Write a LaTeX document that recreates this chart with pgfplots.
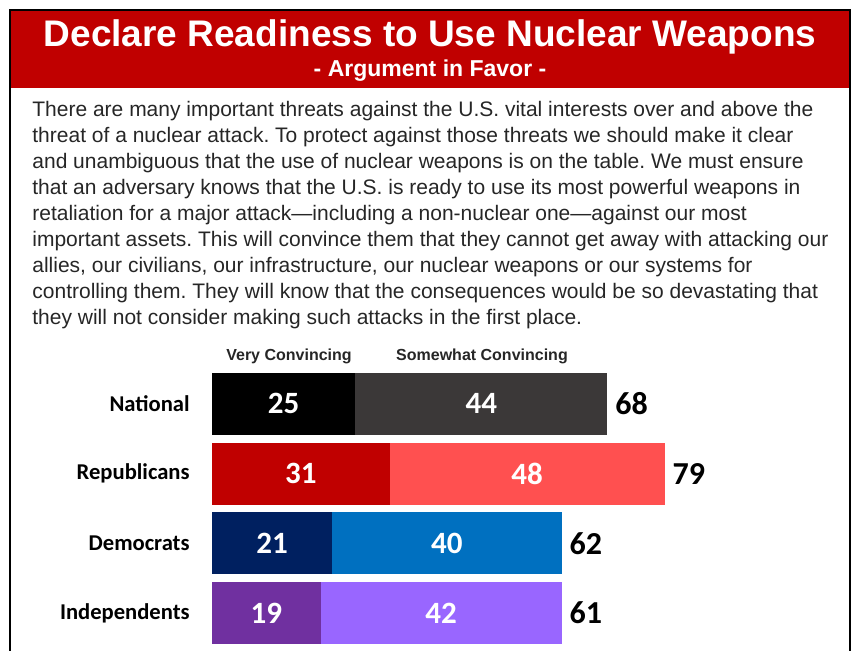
\documentclass[border=0pt]{standalone}
\usepackage{fontspec}
\setmainfont{Liberation Sans}
\newfontfamily\calibri{Carlito}
\usepackage{pgfplots}
\pgfplotsset{compat=1.18}
\definecolor{banner}{HTML}{C00000}
\definecolor{natA}{HTML}{000000}
\definecolor{natB}{HTML}{3B3838}
\definecolor{repA}{HTML}{C00000}
\definecolor{repB}{HTML}{FF5050}
\definecolor{demA}{HTML}{002060}
\definecolor{demB}{HTML}{0070C0}
\definecolor{indA}{HTML}{7030A0}
\definecolor{indB}{HTML}{9966FF}
\definecolor{txt}{HTML}{262626}
\frenchspacing

\begin{document}
\begin{tikzpicture}[x=0.5pt,y=-0.5pt]
\path[use as bounding box] (0,0) rectangle (857,651);
% banner and frame
\fill[banner] (10,10) rectangle (850,88);
\draw[line width=1.2pt] (10,651) -- (10,10) -- (850,10) -- (850,651);
\node[text=white, font=\bfseries\fontsize{18.5}{20}\selectfont] at (430,37) {Declare Readiness to Use Nuclear Weapons};
\node[text=white, font=\bfseries\fontsize{11.5}{13}\selectfont] at (430,71) {- Argument in Favor -};
% argument text
\node[anchor=north west, inner sep=0pt, align=left, text=txt,
      font=\fontsize{10.5}{13}\selectfont] at (32,101) {%
There are many important threats against the U.S. vital interests over and above the\\
threat of a nuclear attack. To protect against those threats we should make it clear\\
and unambiguous that the use of nuclear weapons is on the table. We must ensure\\
that an adversary knows that the U.S. is ready to use its most powerful weapons in\\
retaliation for a major attack—including a non-nuclear one—against our most\\
important assets. This will convince them that they cannot get away with attacking our\\
allies, our civilians, our infrastructure, our nuclear weapons or our systems for\\
controlling them. They will know that the consequences would be so devastating that\\
they will not consider making such attacks in the first place.};
% column headers
\node[font=\bfseries\fontsize{8}{9}\selectfont, text=txt] at (289,356) {Very Convincing};
\node[font=\bfseries\fontsize{8}{9}\selectfont, text=txt] at (482,356) {Somewhat Convincing};

\pgfplotsset{barframe/.style={
    at={(106pt,-184.5pt)}, anchor=north west, scale only axis,
    width=315.15pt, height=139.4pt,
    xmin=0, xmax=110, ymin=-0.5, ymax=3.5, y dir=reverse, clip=false}}

\begin{axis}[barframe,
    xbar stacked, bar width=31pt,
    axis x line=none, axis y line*=left,
    y axis line style={draw=none}, ytick style={draw=none},
    ytick={0,1,2,3},
    yticklabels={National,Republicans,Democrats,Independents},
    yticklabel style={font=\calibri\bfseries\fontsize{11.3}{13}\selectfont,
                      inner sep=0pt, xshift=-11pt}]
% very convincing
\addplot[fill=natA, draw=none] coordinates {(25,0) (0,1) (0,2) (0,3)};
\addplot[fill=repA, draw=none] coordinates {(0,0) (31,1) (0,2) (0,3)};
\addplot[fill=demA, draw=none] coordinates {(0,0) (0,1) (21,2) (0,3)};
\addplot[fill=indA, draw=none] coordinates {(0,0) (0,1) (0,2) (19,3)};
% somewhat convincing
\addplot[fill=natB, draw=none] coordinates {(44,0) (0,1) (0,2) (0,3)};
\addplot[fill=repB, draw=none] coordinates {(0,0) (48,1) (0,2) (0,3)};
\addplot[fill=demB, draw=none] coordinates {(0,0) (0,1) (40,2) (0,3)};
\addplot[fill=indB, draw=none] coordinates {(0,0) (0,1) (0,2) (42,3)};
\end{axis}

\begin{axis}[barframe, hide axis]
\addplot[only marks, mark=none, nodes near coords, point meta=explicit symbolic,
  nodes near coords style={anchor=center, text=white,
    font=\calibri\bfseries\fontsize{15.5}{17}\selectfont}]
  coordinates {(12.5,0) [25] (15.5,1) [31] (10.5,2) [21] (9.5,3) [19]};
\addplot[only marks, mark=none, nodes near coords, point meta=explicit symbolic,
  nodes near coords style={anchor=center, text=white,
    font=\calibri\bfseries\fontsize{15.5}{17}\selectfont}]
  coordinates {(47,0) [44] (55,1) [48] (41,2) [40] (40,3) [42]};
\addplot[only marks, mark=none, nodes near coords, point meta=explicit symbolic,
  nodes near coords style={anchor=west, inner sep=0pt, xshift=3.8pt, text=black,
    font=\calibri\bfseries\fontsize{16}{18}\selectfont}]
  coordinates {(69,0) [68] (79,1) [79] (61,2) [62] (61,3) [61]};
\end{axis}
\end{tikzpicture}
\end{document}
